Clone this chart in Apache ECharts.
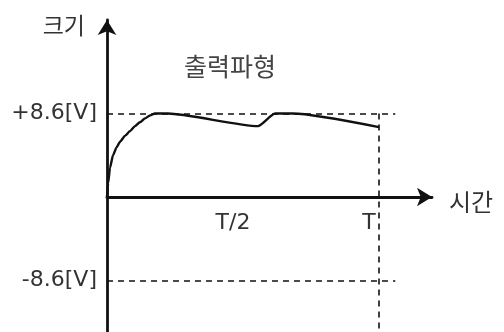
<!DOCTYPE html>
<html lang="ko">

<head>
    <meta charset="UTF-8">
    <title>출력파형</title>
    <script src="https://cdn.jsdelivr.net/npm/echarts@6/dist/echarts.min.js"></script>
    <style>
        html, body {
            margin: 0;
            padding: 0;
            background-color: #fff;
        }

        #chart {
            width: 504px;
            height: 332px;
        }
    </style>
</head>

<body>
    <div id="chart"></div>
    <script>
        // 시간축: T = 1
        const waveTime = [0, 0.004, 0.011, 0.022, 0.035, 0.048, 0.066, 0.085, 0.103, 0.121, 0.14, 0.158, 0.176,
            0.224, 0.555, 0.618, 0.684, 1.0];
        // 출력 전압 [V]
        const waveVolt = [0, 1.4, 3.0, 4.3, 5.1, 5.7, 6.3, 6.8, 7.3, 7.7, 8.1, 8.4, 8.6,
            8.6, 7.3, 8.6, 8.6, 7.2];

        const xTickValues = [0.5, 1];
        const xTickLabels = ['T/2', 'T'];
        const yTickValues = [8.6, -8.6];
        const yTickLabels = ['+8.6[V]', '-8.6[V]'];

        const xMax = 1.195;
        const yMin = -13.9;
        const yMax = 18.23;
        const dashEnd = 1.06;

        const waveData = waveTime.map((t, i) => [t, waveVolt[i]]);

        const ink = '#111';
        const textColor = '#333';

        const chart = echarts.init(document.getElementById('chart'));
        chart.setOption({
            animation: false,
            title: {
                text: '출력파형',
                left: 184,
                top: 54,
                padding: 0,
                textStyle: {
                    fontFamily: 'Noto Sans CJK KR',
                    fontSize: 25,
                    fontWeight: 'normal',
                    color: '#444'
                }
            },
            grid: {
                left: 107,
                right: 72,
                top: 20,
                bottom: 0,
                containLabel: false,
                outerBoundsMode: 'none'
            },
            xAxis: {
                type: 'value',
                min: 0,
                max: xMax,
                name: '시간',
                nameLocation: 'end',
                nameGap: 17,
                nameTextStyle: {
                    fontFamily: 'Noto Sans CJK KR',
                    fontSize: 24,
                    color: textColor,
                    verticalAlign: 'top',
                    lineHeight: 10
                },
                axisLine: {
                    onZero: true,
                    symbol: ['none', 'arrow'],
                    symbolSize: [14, 15],
                    lineStyle: { color: ink, width: 2.8 }
                },
                axisTick: { show: false },
                splitLine: { show: false },
                axisLabel: {
                    customValues: xTickValues,
                    formatter: v => xTickLabels[xTickValues.indexOf(v)],
                    // 라벨을 0 기준선 바로 아래로
                    margin: -120,
                    verticalAlign: 'top',
                    padding: [0, 20, 0, 0],
                    fontFamily: 'DejaVu Sans',
                    fontSize: 22,
                    color: textColor
                }
            },
            yAxis: {
                type: 'value',
                min: yMin,
                max: yMax,
                name: '크기',
                nameLocation: 'end',
                nameGap: -5,
                nameTextStyle: {
                    fontFamily: 'Noto Sans CJK KR',
                    fontSize: 23,
                    color: textColor,
                    align: 'right',
                    verticalAlign: 'middle',
                    padding: [0, 22, 0, 0]
                },
                axisLine: {
                    onZero: true,
                    symbol: ['none', 'arrow'],
                    symbolSize: [14, 15],
                    lineStyle: { color: ink, width: 2.8 }
                },
                axisTick: { show: false },
                splitLine: { show: false },
                axisLabel: {
                    customValues: yTickValues,
                    formatter: v => yTickLabels[yTickValues.indexOf(v)],
                    margin: 10,
                    fontFamily: 'DejaVu Sans',
                    fontSize: 22,
                    color: textColor
                }
            },
            series: [{
                type: 'line',
                data: waveData,
                showSymbol: false,
                smooth: 0.2,
                smoothMonotone: 'x',
                lineStyle: { color: ink, width: 2.4 },
                markLine: {
                    silent: true,
                    symbol: 'none',
                    label: { show: false },
                    lineStyle: { color: ink, width: 1.6, type: [6, 5] },
                    data: [
                        [{ coord: [0, yTickValues[0]] }, { coord: [dashEnd, yTickValues[0]] }],
                        [{ coord: [0, yTickValues[1]] }, { coord: [dashEnd, yTickValues[1]] }],
                        [{ coord: [1, yTickValues[0]] }, { coord: [1, yMin] }]
                    ]
                }
            }]
        });
    </script>
</body>

</html>
